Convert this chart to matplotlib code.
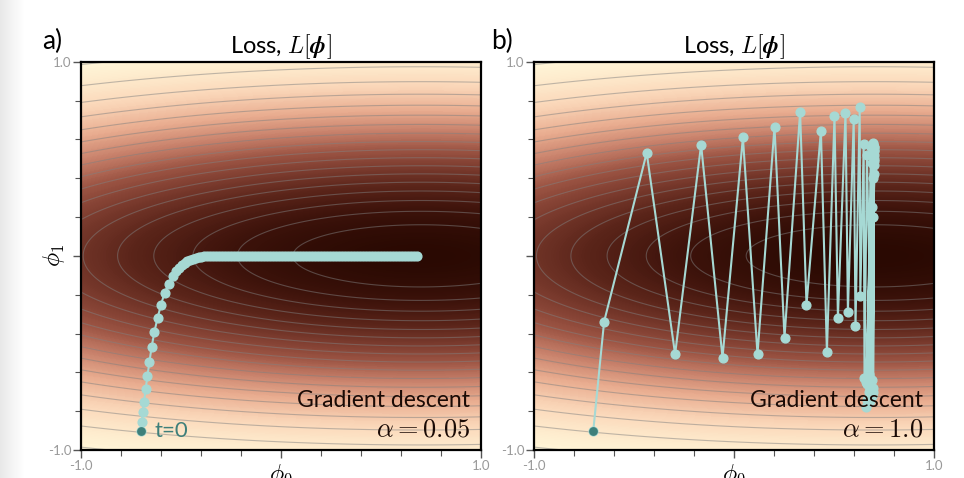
import numpy as np
import matplotlib
matplotlib.use("Agg")
import matplotlib.pyplot as plt
from matplotlib.colors import LinearSegmentedColormap
from matplotlib.ticker import FixedLocator, MultipleLocator

# loss surface: 1 - exp(-0.5*4*phi1^2) * exp(-0.5*(phi0-0.7)^2/4)
loss_centre = 0.7
loss_width_phi0 = 4.0
loss_width_phi1 = 4.0

# colormap anchors, dark minimum -> cream plateau
cmap_colors = ["#2a0902", "#3e130b", "#5a2419", "#7a3a2d", "#9c5443",
               "#c7806a", "#e9ad90", "#fbd9bb", "#fff6d8"]

panel_labels = ["a)", "b)"]
learning_rates = ["0.05", "1.0"]

# path (alpha = 0.05)
path_a_x = [-0.700, -0.695, -0.692, -0.685, -0.677, -0.668, -0.658, -0.647,
            -0.633, -0.617, -0.600, -0.582, -0.562, -0.542, -0.527, -0.512,
            -0.497, -0.482, -0.468, -0.454, -0.440, -0.426, -0.412, -0.398,
            -0.384, -0.370, -0.356,
            -0.340, -0.325, -0.310, -0.295, -0.280, -0.265, -0.250, -0.235,
            -0.220, -0.205, -0.190, -0.175, -0.160, -0.145, -0.130, -0.115,
            -0.100, -0.085, -0.070, -0.055, -0.040, -0.025, -0.010, 0.005,
            0.020, 0.035, 0.050, 0.065, 0.080, 0.095, 0.110, 0.125,
            0.140, 0.155, 0.170, 0.185, 0.200, 0.215, 0.230, 0.245,
            0.260, 0.275, 0.290, 0.305, 0.320, 0.335, 0.350, 0.365,
            0.380, 0.395, 0.410, 0.425, 0.440, 0.455, 0.470, 0.485,
            0.500, 0.515, 0.530, 0.545, 0.560, 0.575, 0.590, 0.605,
            0.620, 0.635, 0.650, 0.665, 0.680]
path_a_y = [-0.900, -0.854, -0.806, -0.751, -0.688, -0.619, -0.547, -0.470,
            -0.391, -0.319, -0.252, -0.190, -0.144, -0.102, -0.080, -0.062,
            -0.048, -0.036, -0.027, -0.020, -0.014, -0.010, -0.007, -0.005,
            -0.003, -0.002, -0.001,
            0.0, 0.0, 0.0, 0.0, 0.0, 0.0, 0.0, 0.0,
            0.0, 0.0, 0.0, 0.0, 0.0, 0.0, 0.0, 0.0,
            0.0, 0.0, 0.0, 0.0, 0.0, 0.0, 0.0, 0.0,
            0.0, 0.0, 0.0, 0.0, 0.0, 0.0, 0.0, 0.0,
            0.0, 0.0, 0.0, 0.0, 0.0, 0.0, 0.0, 0.0,
            0.0, 0.0, 0.0, 0.0, 0.0, 0.0, 0.0, 0.0,
            0.0, 0.0, 0.0, 0.0, 0.0, 0.0, 0.0, 0.0,
            0.0, 0.0, 0.0, 0.0, 0.0, 0.0, 0.0, 0.0,
            0.0, 0.0, 0.0, 0.0, 0.0]

# path (alpha = 1.0)
path_b_x = [-0.705, -0.651, -0.438, -0.296, -0.166, -0.059, 0.043, 0.116,
            0.201, 0.251, 0.329, 0.361, 0.433, 0.463, 0.501, 0.518, 0.556,
            0.568, 0.597, 0.606, 0.627, 0.630, 0.647, 0.651, 0.663, 0.688,
            0.683, 0.663, 0.693, 0.660, 0.688, 0.670, 0.696, 0.672, 0.690,
            0.675, 0.696, 0.680, 0.695, 0.684, 0.697, 0.686, 0.698, 0.688,
            0.697, 0.660, 0.692, 0.666, 0.699, 0.670, 0.694, 0.676, 0.700,
            0.680, 0.695, 0.684, 0.699, 0.687, 0.696, 0.690, 0.698, 0.692,
            0.697, 0.694, 0.699]
path_b_y = [-0.900, -0.339, 0.531, -0.507, 0.573, -0.524, 0.610, -0.506,
            0.665, -0.421, 0.741, -0.253, 0.645, -0.494, 0.720, -0.319, 0.736,
            -0.289, 0.703, -0.363, 0.765, -0.207, 0.574, -0.627, 0.519, -0.683,
            0.562, -0.740, 0.536, -0.650, 0.476, -0.760, 0.402, -0.700, 0.253,
            -0.620, 0.202, -0.690, 0.550, -0.720, 0.500, -0.640, 0.560, -0.700,
            0.540, -0.780, 0.580, -0.660, 0.470, -0.730, 0.565, -0.610, 0.420,
            -0.750, 0.555, -0.670, 0.520, -0.720, 0.575, -0.640, 0.490, -0.700,
            0.560, -0.680, 0.545]

paths = [(path_a_x, path_a_y), (path_b_x, path_b_y)]

plt.rcParams['font.family'] = ['Lato', 'DejaVu Sans']
plt.rcParams['mathtext.fontset'] = 'cm'

brown_cmap = LinearSegmentedColormap.from_list("udl_brown", cmap_colors)
path_color = "#a6d9d4"
start_color = "#3e7f7a"

grid = np.linspace(-1.0, 1.0, 301)
phi0mesh, phi1mesh = np.meshgrid(grid, grid)
loss = 1.0 - (np.exp(-0.5 * phi1mesh ** 2 * loss_width_phi1)
              * np.exp(-0.5 * (phi0mesh - loss_centre) ** 2 / loss_width_phi0))

fig = plt.figure(figsize=(9.64, 4.78), dpi=100)

# faint grey shade at the left edge
shade = fig.add_axes([0, 0, 0.025, 1])
shade.imshow(np.linspace(0.91, 1.0, 50)[None, :], cmap="gray", vmin=0, vmax=1,
             aspect="auto", extent=[0, 1, 0, 1])
shade.axis("off")

lefts = [81 / 964, 534.3 / 964]
for i in range(2):
    ax = fig.add_axes([lefts[i], 28 / 478, 400 / 964, 388.3 / 478])
    ax.contourf(phi0mesh, phi1mesh, loss, 256, cmap=brown_cmap, zorder=0)
    ax.contour(phi0mesh, phi1mesh, loss, 20, colors=['#80808080'],
               linewidths=0.8, zorder=1)

    px, py = paths[i]
    ax.plot(px, py, '-', color=path_color, lw=1.5, zorder=3)
    ax.plot(px, py, 'o', color=path_color, markersize=6.3, zorder=3)
    ax.plot(px[0], py[0], 'o', color=start_color, markersize=5.3, zorder=4)

    ax.set_xlim(-1, 1)
    ax.set_ylim(-1, 1)

    for axis in (ax.xaxis, ax.yaxis):
        axis.set_major_locator(FixedLocator([-1.0, 0.0, 1.0]))
        axis.set_minor_locator(MultipleLocator(0.2))
    ax.set_xticklabels(['-1.0', '', '1.0'])
    ax.set_yticklabels(['-1.0', '', '1.0'])
    ax.tick_params(which='major', length=6, width=1.0, color='#555555',
                   labelsize=9.5, labelcolor='#999999', pad=1)
    ax.tick_params(which='minor', length=4, width=0.8, color='#555555')
    for s in ax.spines.values():
        s.set_linewidth(1.6)

    ax.set_xlabel(r'$\phi_0$', fontsize=17)
    ax.xaxis.set_label_coords(0.5, -0.03)
    if i == 0:
        ax.set_ylabel(r'$\phi_1$', fontsize=17)
        ax.yaxis.set_label_coords(-0.035, 0.5)
        ax.annotate('t=0', xy=(px[0], py[0]), xytext=(10, 0),
                    textcoords='offset points', va='center', ha='left',
                    fontsize=16, color=start_color, zorder=5)

    ax.set_title(r'Loss, $L[\boldsymbol{\phi}]$', fontsize=17, pad=6)
    ax.text(0.973, 0.111, 'Gradient descent', transform=ax.transAxes,
            ha='right', va='baseline', fontsize=16.5, color='#1a0a05', zorder=6)
    ax.text(0.973, 0.036, r'$\alpha = %s$' % learning_rates[i],
            transform=ax.transAxes, ha='right', va='baseline', fontsize=19,
            color='#1a0a05', zorder=6)

fig.text(42 / 964, 1 - 49 / 478, panel_labels[0], fontsize=19, va='baseline')
fig.text(491 / 964, 1 - 49 / 478, panel_labels[1], fontsize=19, va='baseline')

fig.savefig("out.png", dpi=100)
